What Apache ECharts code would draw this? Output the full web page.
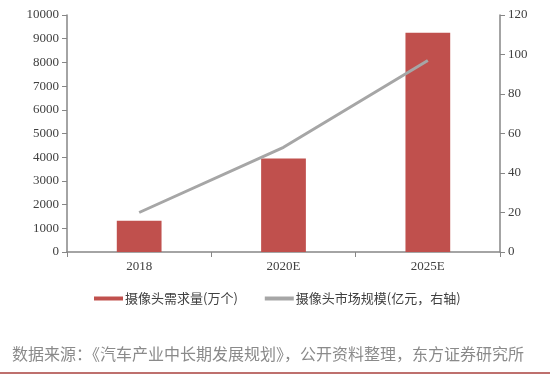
<!DOCTYPE html>
<html><head><meta charset="utf-8">
<script src="https://cdn.jsdelivr.net/npm/echarts@6/dist/echarts.min.js"></script>
<style>html,body{margin:0;padding:0;background:#fff}#c{width:556px;height:386px}</style>
</head><body><div id="c"></div>
<script>
var categories = ['2018', '2020E', '2025E'];
var demand = [1320, 3940, 9250];
var marketSize = [20, 53, 97];
var leftTicks = [0, 10000, 1000];
var rightTicks = [0, 120, 20];
var seriesNames = ['摄像头需求量(万个)', '摄像头市场规模(亿元，右轴)'];
var sourceText = '数据来源：《汽车产业中长期发展规划》，公开资料整理，东方证券研究所';

var chart = echarts.init(document.getElementById('c'), null, {renderer: 'canvas'});
var axisFont = {fontFamily: 'Liberation Serif', fontSize: 13, color: '#404040'};
function plain(v) { return String(v); }
chart.setOption({
  animation: false,
  backgroundColor: '#fff',
  grid: {left: 67, right: 56, top: 15, bottom: 134},
  legend: {
    left: 89, top: 287, itemWidth: 29, itemHeight: 4, itemGap: 27, icon: 'rect',
    textStyle: {fontFamily: 'Noto Sans CJK SC', fontSize: 13, color: '#404040', padding: [0,0,0,-3]},
    data: [{name: seriesNames[0], itemStyle: {color: '#c0504d'}}, {name: seriesNames[1], itemStyle: {color: '#a6a6a6'}}]
  },
  xAxis: {
    type: 'category', data: categories,
    axisLine: {lineStyle: {color: '#868686', width: 1.5}},
    axisTick: {show: true, alignWithLabel: false, length: 5, lineStyle: {color: '#868686'}},
    axisLabel: Object.assign({margin: 8}, axisFont)
  },
  yAxis: [{
    type: 'value', min: leftTicks[0], max: leftTicks[1], interval: leftTicks[2],
    axisLine: {show: true, lineStyle: {color: '#868686', width: 1.5}},
    axisTick: {show: true, inside: false, length: 5, lineStyle: {color: '#868686'}},
    splitLine: {show: false},
    axisLabel: Object.assign({margin: 8, formatter: plain}, axisFont)
  }, {
    type: 'value', min: rightTicks[0], max: rightTicks[1], interval: rightTicks[2],
    position: 'right',
    axisLine: {show: true, lineStyle: {color: '#868686', width: 1.5}},
    axisTick: {show: true, length: 5, lineStyle: {color: '#868686'}},
    splitLine: {show: false},
    axisLabel: Object.assign({margin: 8, formatter: plain}, axisFont)
  }],
  series: [{
    name: seriesNames[0], type: 'bar', data: demand, barWidth: '31%',
    itemStyle: {color: '#c0504d'}
  }, {
    name: seriesNames[1], type: 'line', yAxisIndex: 1, data: marketSize,
    symbol: 'none', lineStyle: {color: '#a6a6a6', width: 3}, itemStyle: {color: '#a6a6a6'}
  }],
  graphic: [{
    type: 'text', left: 12, top: 346,
    style: {text: sourceText, font: '16px "Noto Sans CJK SC"', fill: '#8a8a8a'}
  }, {
    type: 'line', shape: {x1: 0, y1: 373, x2: 550, y2: 373},
    style: {stroke: '#a8403c', lineWidth: 1.5}
  }]
});
</script></body></html>
